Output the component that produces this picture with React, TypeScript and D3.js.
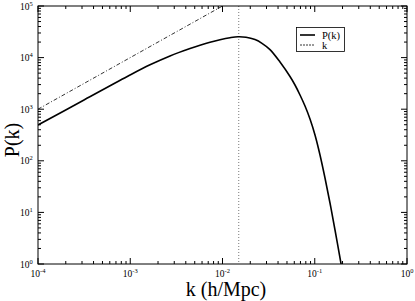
import React from "react";
import * as d3 from "d3";

const kValues = [1e-4, 3.152e-4, 9.938e-4, 1.6374e-3, 2.697e-3, 4.444e-3, 5.704e-3, 7.319e-3, 9.395e-3, 0.012058, 0.014723, 0.017979, 0.022504, 0.026801, 0.032728, 0.042015, 0.053925, 0.061074, 0.069202, 0.078424, 0.088832, 0.100626, 0.11401, 0.12915, 0.14632, 0.1658, 0.19253, 0.20239];
const pkValues = [494.1, 1507.6, 4600, 7253, 10788, 15009, 17392, 19880, 22233, 24300, 25409, 24848, 22333, 18929, 14291, 8217, 4303, 2944, 1884, 1153, 645.8, 316.2, 129.6, 46.42, 15.21, 4.559, 1.0226, 0.612];
const refK = [1e-4, 1e-2];
const refLine = [1e3, 1e5];
const peakK = 0.015;
const xDecades = [-4, -3, -2, -1, 0];
const yDecades = [0, 1, 2, 3, 4, 5];
const legendLabels = ["P(k)", "k"];

const W = 415, H = 301;
const L = 38, R = 407, T = 6, B = 264;

export default function App() {
  const x = d3.scaleLog().domain([1e-4, 1]).range([L, R]);
  const y = d3.scaleLog().domain([1, 1e5]).range([B, T]);
  const line = d3.line<[number, number]>().x(d => x(d[0])).y(d => y(d[1])).curve(d3.curveCatmullRom.alpha(0.5));
  const pk: [number, number][] = kValues.map((k, i) => [k, pkValues[i]]);
  const kl: [number, number][] = refK.map((k, i) => [k, refLine[i]]);

  const xMinor: number[] = [];
  xDecades.slice(0, -1).forEach(e => { for (let m = 2; m <= 9; m++) xMinor.push(m * Math.pow(10, e)); });
  const yMinor: number[] = [];
  yDecades.slice(0, -1).forEach(e => { for (let m = 2; m <= 9; m++) yMinor.push(m * Math.pow(10, e)); });

  const font = "'Liberation Serif', 'DejaVu Serif', serif";
  const maj = 6, mnr = 3;

  return (
    <svg width={W} height={H} style={{ position: "absolute", left: 0, top: 0, background: "#fff" }} fontFamily={font}>
      <defs>
        <clipPath id="plot"><rect x={L} y={T} width={R - L} height={B - T} /></clipPath>
      </defs>
      <rect x={0} y={0} width={W} height={H} fill="#fff" />
      <line x1={x(peakK)} x2={x(peakK)} y1={T} y2={B} stroke="#555" strokeWidth={0.8} strokeDasharray="1,2" />
      <g clipPath="url(#plot)">
        <path d={line(kl) || ""} fill="none" stroke="#000" strokeWidth={0.8} strokeDasharray="4,2,1,2" />
        <path d={line(pk) || ""} fill="none" stroke="#000" strokeWidth={1.6} />
      </g>
      <rect x={L} y={T} width={R - L} height={B - T} fill="none" stroke="#000" strokeWidth={1} />
      {xDecades.map(e => {
        const px = x(Math.pow(10, e));
        return (
          <g key={"xm" + e}>
            <line x1={px} x2={px} y1={B} y2={B - maj} stroke="#000" />
            <line x1={px} x2={px} y1={T} y2={T + maj} stroke="#000" />
            <text x={px} y={277} textAnchor="middle" fontSize={9.5}>
              10<tspan dy={-4} fontSize={6.5}>{e}</tspan>
            </text>
          </g>
        );
      })}
      {xMinor.map((v, i) => (
        <g key={"xn" + i}>
          <line x1={x(v)} x2={x(v)} y1={B} y2={B - mnr} stroke="#000" />
          <line x1={x(v)} x2={x(v)} y1={T} y2={T + mnr} stroke="#000" />
        </g>
      ))}
      {yDecades.map(e => {
        const py = y(Math.pow(10, e));
        return (
          <g key={"ym" + e}>
            <line x1={L} x2={L + maj} y1={py} y2={py} stroke="#000" />
            <line x1={R} x2={R - maj} y1={py} y2={py} stroke="#000" />
            <text x={20} y={py + 3.5} textAnchor="start" fontSize={9.5}>
              10<tspan dy={-4} fontSize={6.5}>{e}</tspan>
            </text>
          </g>
        );
      })}
      {yMinor.map((v, i) => (
        <g key={"yn" + i}>
          <line x1={L} x2={L + mnr} y1={y(v)} y2={y(v)} stroke="#000" />
          <line x1={R} x2={R - mnr} y1={y(v)} y2={y(v)} stroke="#000" />
        </g>
      ))}
      <text x={226} y={296} textAnchor="middle" fontSize={20}>k (h/Mpc)</text>
      <text transform={`translate(19,140) rotate(-90)`} textAnchor="middle" fontSize={20}>P(k)</text>
      <rect x={296.5} y={27.5} width={48} height={24} fill="#fff" stroke="#000" strokeWidth={0.8} />
      <line x1={300} x2={315} y1={35} y2={35} stroke="#000" strokeWidth={1.6} />
      <line x1={300} x2={315} y1={45} y2={45} stroke="#000" strokeWidth={0.8} strokeDasharray="2,1" />
      <text x={322} y={38.5} fontSize={10.5}>{legendLabels[0]}</text>
      <text x={322} y={48.5} fontSize={10.5}>{legendLabels[1]}</text>
    </svg>
  );
}
